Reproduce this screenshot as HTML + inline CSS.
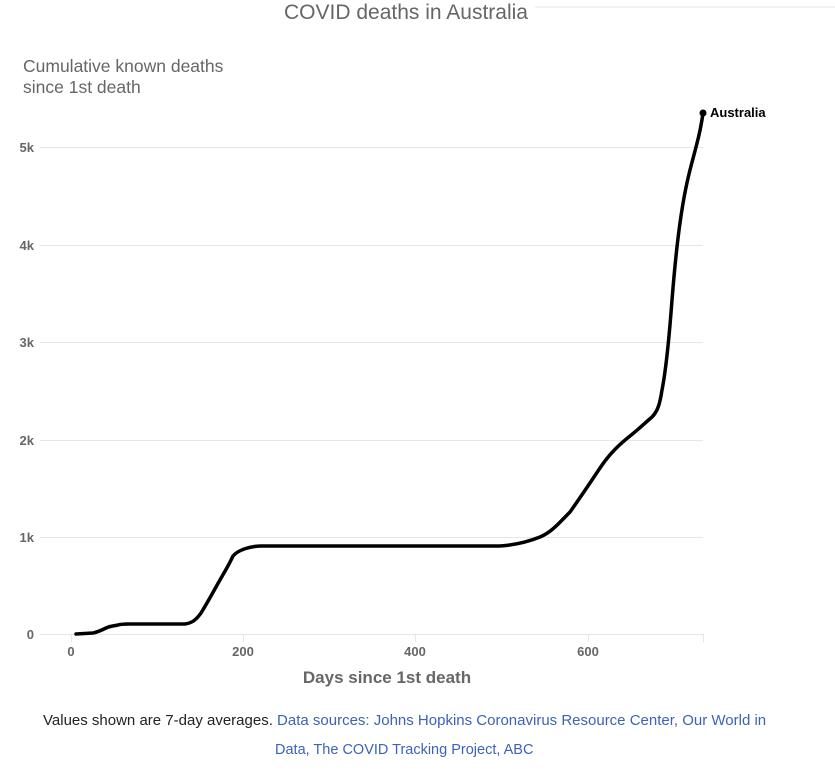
<!DOCTYPE html>
<html><head><meta charset="utf-8"><style>
body{margin:0;background:#fff;font-family:"Liberation Sans",sans-serif;}
</style></head><body>
<svg width="835" height="768" viewBox="0 0 835 768" xmlns="http://www.w3.org/2000/svg" font-family="Liberation Sans, sans-serif">
<rect width="835" height="768" fill="#fff"/>
<line x1="535" y1="7" x2="835" y2="7" stroke="#e4e4e4" stroke-width="1"/>
<text x="406" y="19" text-anchor="middle" font-size="21" fill="#666">COVID deaths in Australia</text>
<text x="23" y="72" font-size="17.5" fill="#666">Cumulative known deaths</text>
<text x="23" y="93" font-size="17.5" fill="#666">since 1st death</text>
<g stroke="#e6e6e6" stroke-width="1">
<line x1="40" y1="147.5" x2="703" y2="147.5"/>
<line x1="40" y1="245.5" x2="703" y2="245.5"/>
<line x1="40" y1="342.5" x2="703" y2="342.5"/>
<line x1="40" y1="440.5" x2="703" y2="440.5"/>
<line x1="40" y1="537.5" x2="703" y2="537.5"/>
<line x1="40" y1="634.5" x2="703" y2="634.5"/>
<line x1="71.5" y1="634" x2="71.5" y2="642"/>
<line x1="243.5" y1="634" x2="243.5" y2="642"/>
<line x1="415.5" y1="634" x2="415.5" y2="642"/>
<line x1="588.5" y1="634" x2="588.5" y2="642"/>
<line x1="703.5" y1="634" x2="703.5" y2="642"/>
</g>
<g font-size="13" font-weight="bold" fill="#666" text-anchor="end">
<text x="34" y="152">5k</text><text x="34" y="250">4k</text><text x="34" y="347">3k</text>
<text x="34" y="445">2k</text><text x="34" y="542">1k</text><text x="34" y="639">0</text>
</g>
<g font-size="13" font-weight="bold" fill="#666" text-anchor="middle">
<text x="71" y="656">0</text><text x="243" y="656">200</text><text x="415" y="656">400</text><text x="588" y="656">600</text>
</g>
<text x="387" y="683" text-anchor="middle" font-size="17" font-weight="bold" fill="#666">Days since 1st death</text>
<path d="M76,634 L93,633 C98,632 102,630 106,628 C110,626 114,626 118,625 C121,624 124,624 130,624 L160,624 L185,624 C192,623 196,620 201,613 C206,605 211,596 216,587 C222,576 228,567 233,556 C238,550 250,546 262,546 L500,546 C515,545 530,541 540,537 C552,532 560,522 570,512 C580,498 590,483 600,468 C610,453 620,444 630,436 C640,428 645,423 652,417 C658,411 660,403 662,390 C666,370 669,340 672,300 C676,250 681,205 690,170 C695,150 700,135 703,113" fill="none" stroke="#000" stroke-width="3.5" stroke-linejoin="round" stroke-linecap="round"/>
<circle cx="703" cy="113" r="3.5" fill="#000"/>
<text x="710" y="117" font-size="13" font-weight="bold" fill="#000">Australia</text>
<text x="43" y="725" font-size="15" fill="#222">Values shown are 7-day averages. <tspan fill="#3b63b8">Data sources: Johns Hopkins Coronavirus Resource Center, Our World in</tspan></text>
<text x="275" y="754" font-size="14.5" fill="#3b63b8">Data, The COVID Tracking Project, ABC</text>
</svg>
</body></html>
